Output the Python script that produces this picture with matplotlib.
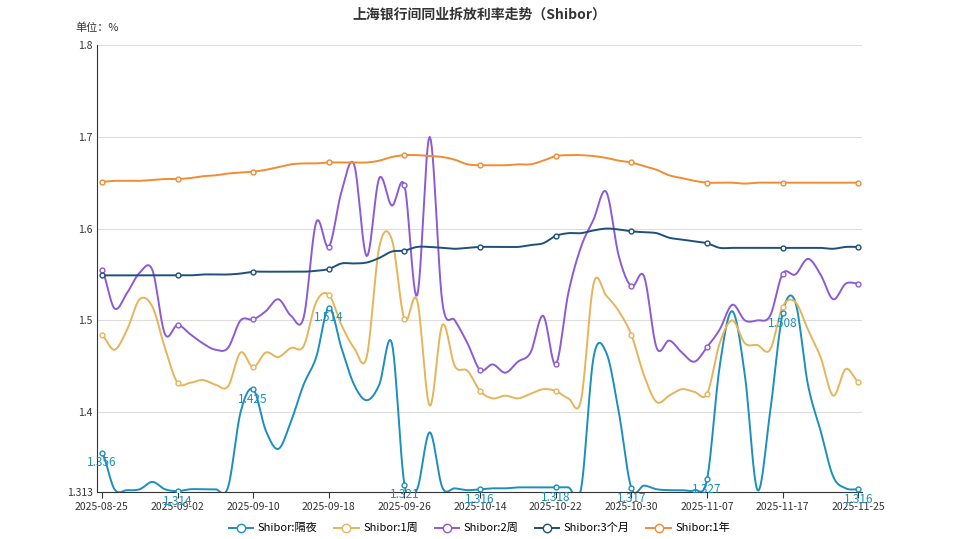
import numpy as np
import matplotlib
matplotlib.use("Agg")
import matplotlib.pyplot as plt
from matplotlib.lines import Line2D

plt.rcParams["font.family"] = ["Noto Sans CJK SC", "DejaVu Sans"]

# ---------------------------------------------------------------------------
# Data (61 trading days, label every 6th)
# ---------------------------------------------------------------------------
tick_labels = ["2025-08-25", "2025-09-02", "2025-09-10", "2025-09-18", "2025-09-26",
               "2025-10-14", "2025-10-22", "2025-10-30", "2025-11-07", "2025-11-17",
               "2025-11-25"]

overnight = [1.356, 1.316, 1.315, 1.316, 1.324, 1.316, 1.314, 1.316, 1.316, 1.316,
             1.318, 1.40, 1.425, 1.38, 1.36, 1.39, 1.43, 1.46, 1.514, 1.47,
             1.43, 1.413, 1.43, 1.475, 1.321, 1.316, 1.378, 1.318, 1.317, 1.315,
             1.316, 1.317, 1.317, 1.318, 1.318, 1.318, 1.318, 1.318, 1.316, 1.46,
             1.465, 1.40, 1.317, 1.32, 1.316, 1.315, 1.315, 1.315, 1.327, 1.45,
             1.51, 1.44, 1.315, 1.40, 1.508, 1.52, 1.43, 1.38, 1.33, 1.317,
             1.316]
week1 = [1.484, 1.468, 1.49, 1.523, 1.515, 1.47, 1.432, 1.432, 1.435, 1.43,
         1.428, 1.465, 1.449, 1.465, 1.46, 1.47, 1.472, 1.52, 1.528, 1.495,
         1.47, 1.46, 1.58, 1.588, 1.501, 1.522, 1.407, 1.495, 1.45, 1.445,
         1.423, 1.415, 1.418, 1.415, 1.42, 1.425, 1.423, 1.415, 1.413, 1.54,
         1.527, 1.51, 1.484, 1.44, 1.411, 1.418, 1.425, 1.422, 1.42, 1.475,
         1.50, 1.475, 1.473, 1.468, 1.515, 1.52, 1.49, 1.46, 1.418, 1.447,
         1.433]
week2 = [1.555, 1.513, 1.53, 1.552, 1.555, 1.485, 1.495, 1.485, 1.475, 1.468,
         1.47, 1.50, 1.501, 1.51, 1.523, 1.505, 1.503, 1.607, 1.58, 1.64,
         1.67, 1.57, 1.655, 1.625, 1.647, 1.527, 1.70, 1.52, 1.50, 1.475,
         1.446, 1.452, 1.443, 1.455, 1.465, 1.505, 1.452, 1.53, 1.58, 1.61,
         1.64, 1.57, 1.537, 1.548, 1.47, 1.478, 1.465, 1.455, 1.471, 1.49,
         1.517, 1.50, 1.50, 1.505, 1.551, 1.55, 1.567, 1.55, 1.523, 1.54,
         1.54]
month3 = [1.549, 1.549, 1.549, 1.549, 1.549, 1.549, 1.549, 1.549, 1.55, 1.55,
          1.55, 1.551, 1.553, 1.553, 1.553, 1.553, 1.553, 1.554, 1.556, 1.562,
          1.562, 1.563, 1.568, 1.575, 1.576, 1.58, 1.58, 1.579, 1.578, 1.579,
          1.58, 1.58, 1.58, 1.58, 1.582, 1.584, 1.592, 1.595, 1.595, 1.598,
          1.60, 1.599, 1.597, 1.596, 1.595, 1.59, 1.588, 1.586, 1.584, 1.579,
          1.579, 1.579, 1.579, 1.579, 1.579, 1.579, 1.579, 1.579, 1.578, 1.58,
          1.58]
year1 = [1.651, 1.652, 1.652, 1.652, 1.653, 1.654, 1.654, 1.655, 1.657, 1.658,
         1.660, 1.661, 1.662, 1.664, 1.667, 1.670, 1.671, 1.671, 1.672, 1.672,
         1.672, 1.672, 1.674, 1.678, 1.680, 1.680, 1.679, 1.678, 1.675, 1.670,
         1.669, 1.669, 1.669, 1.670, 1.670, 1.674, 1.679, 1.680, 1.680, 1.679,
         1.677, 1.674, 1.672, 1.668, 1.664, 1.658, 1.655, 1.652, 1.650, 1.650,
         1.650, 1.649, 1.650, 1.650, 1.650, 1.650, 1.650, 1.650, 1.650, 1.650,
         1.650]

series = [
    ("Shibor:隔夜", overnight, "#1b8fbd"),
    ("Shibor:1周", week1, "#e6b45a"),
    ("Shibor:2周", week2, "#8d5ad6"),
    ("Shibor:3个月", month3, "#1f4f7a"),
    ("Shibor:1年", year1, "#f08c32"),
]


def smooth(y, n=12):
    """Catmull-Rom curve through the points, like echarts smooth lines."""
    y = np.asarray(y, float)
    x = np.arange(len(y), dtype=float)
    p = np.concatenate([[y[0]], y, [y[-1]]])
    xs, ys = [], []
    t = np.linspace(0, 1, n, endpoint=False)
    for i in range(len(y) - 1):
        p0, p1, p2, p3 = p[i], p[i + 1], p[i + 2], p[i + 3]
        yy = 0.5 * ((2 * p1) + (-p0 + p2) * t + (2 * p0 - 5 * p1 + 4 * p2 - p3) * t ** 2
                    + (-p0 + 3 * p1 - 3 * p2 + p3) * t ** 3)
        xs.append(x[i] + t)
        ys.append(yy)
    xs.append([x[-1]])
    ys.append([y[-1]])
    return np.concatenate(xs), np.concatenate(ys)


fig = plt.figure(figsize=(9.59, 5.39), dpi=100)
ax = fig.add_axes([0.101, 0.0872, 0.798, 0.8293])

mark_idx = np.arange(0, 61, 6)
for name, vals, color in series:
    sx, sy = smooth(vals)
    ax.plot(sx, sy, color=color, lw=1.4, zorder=3)
    ax.plot(mark_idx, np.asarray(vals)[mark_idx], "o", ms=3.5, mfc="white",
            mec=color, mew=1, zorder=4)

for i in mark_idx:
    ax.text(i, overnight[i] - 0.004, f"{overnight[i]:.3f}", color="#1b8fbd",
            fontsize=8.5, ha="center", va="top", zorder=5)

ax.set_xlim(-0.4, 60.3)
ax.set_ylim(1.313, 1.8)
ax.set_yticks([1.313, 1.4, 1.5, 1.6, 1.7, 1.8])
ax.set_yticklabels(["1.313", "1.4", "1.5", "1.6", "1.7", "1.8"])
ax.set_xticks(mark_idx)
ax.set_xticklabels(tick_labels)
ax.tick_params(axis="both", labelsize=7.5, colors="#333333", length=4)
ax.tick_params(axis="y", length=0, pad=3)
ax.grid(axis="y", color="#dddddd", lw=0.8)
for s in ["top", "right"]:
    ax.spines[s].set_visible(False)
ax.spines["left"].set_color("#333333")
ax.spines["bottom"].set_color("#333333")
ax.set_axisbelow(True)

fig.text(0.5, 0.972, "上海银行间同业拆放利率走势（Shibor）", ha="center", va="center",
         fontsize=10, fontweight="bold", color="#333333")
fig.text(0.079, 0.948, "单位：%", ha="left", va="center", fontsize=8, color="#333333")

handles = [Line2D([0], [0], color=c, lw=1.4, marker="o", ms=6, mfc="white", mec=c)
           for _, _, c in series]
fig.legend(handles, [n for n, _, _ in series], loc="center", bbox_to_anchor=(0.5, 0.02),
           ncol=5, frameon=False, fontsize=8, handlelength=2.2, columnspacing=1.5,
           handletextpad=0.4)

fig.savefig("out.png", dpi=100)
